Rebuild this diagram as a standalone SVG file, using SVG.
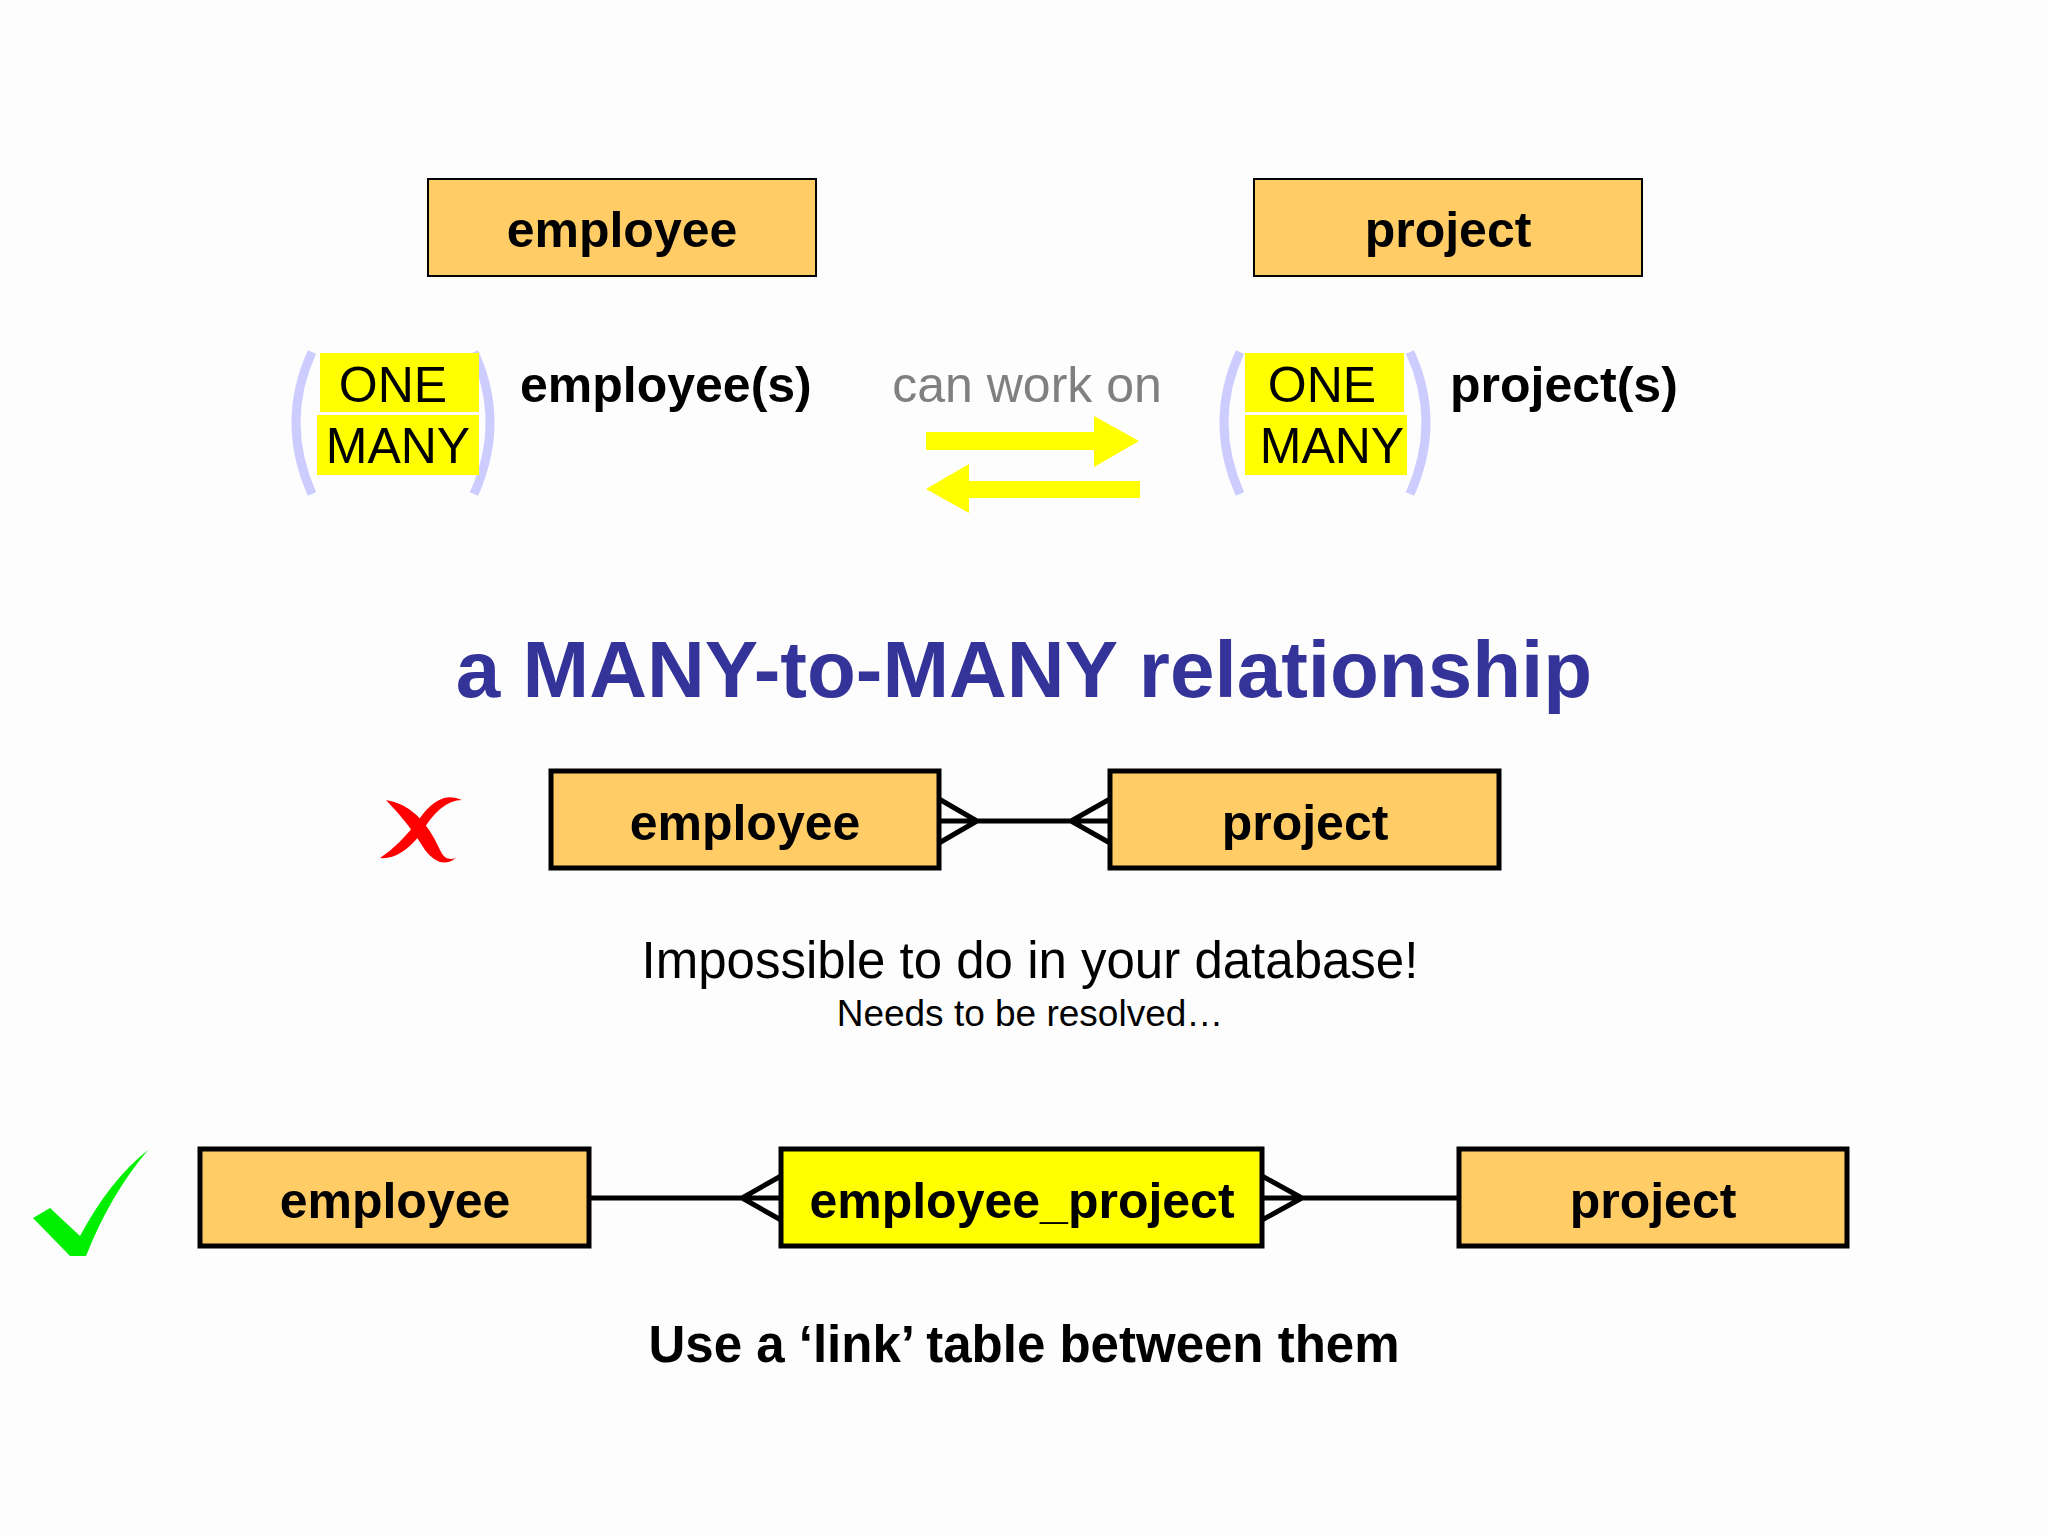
<svg xmlns="http://www.w3.org/2000/svg" width="2048" height="1536" viewBox="0 0 2048 1536">
<style>
.b{font-family:"Liberation Sans",Arial,sans-serif;font-weight:bold;font-size:50px;fill:#000;text-anchor:middle}
.r{font-family:"Liberation Sans",Arial,sans-serif;font-size:50px;fill:#000;text-anchor:middle}
.s{text-anchor:start}
.box{fill:#FFCC66;stroke:#000}
.yl{fill:#FFFF00}
.par{fill:none;stroke:#CCCCFF;stroke-width:9}
.ln{stroke:#000;stroke-width:5;fill:none}
</style>
<rect width="2048" height="1536" fill="#fdfdfd"/>
<g id="top-employee"><rect class="box" x="428" y="179" width="388" height="97" stroke-width="2"/><text class="b" x="622" y="247">employee</text></g>
<g id="top-project"><rect class="box" x="1254" y="179" width="388" height="97" stroke-width="2"/><text class="b" x="1448" y="247">project</text></g>
<g id="left-card">
<path class="par" d="M312,352 Q280,422 312,494"/><path class="par" d="M474,352 Q506,422 474,494"/>
<rect class="yl" x="320" y="353" width="159" height="59"/><rect class="yl" x="317" y="415" width="162" height="60"/>
<text class="r" x="393" y="402">ONE</text><text class="r" x="398" y="463">MANY</text>
<text class="b s" x="520" y="402">employee(s)</text>
</g>
<g id="right-card">
<path class="par" d="M1240,352 Q1208,422 1240,494"/><path class="par" d="M1410,352 Q1442,422 1410,494"/>
<rect class="yl" x="1245" y="353" width="159" height="59"/><rect class="yl" x="1245" y="415" width="162" height="60"/>
<text class="r" x="1322" y="402">ONE</text><text class="r" x="1332" y="463">MANY</text>
<text class="b s" x="1450" y="402">project(s)</text>
</g>
<g id="can-work-on">
<text class="r" x="1027" y="402" style="fill:#808080">can work on</text>
<polygon class="yl" points="926,432 1094,432 1094,416 1139,441 1094,467 1094,450 926,450"/>
<polygon class="yl" points="1140,481 969,481 969,464 926,489 969,513 969,498 1140,498"/>
</g>
<text id="title" x="1024" y="697" text-anchor="middle" font-family="Liberation Sans,Arial,sans-serif" font-weight="bold" font-size="80" fill="#333399">a MANY-to-MANY relationship</text>
<g id="cross"><path d="M386,800 Q420,805 440,850 Q445,862 456,858 Q440,870 425,850 Q410,825 386,800 Z" fill="#ff0000"/><path d="M380,858 Q400,845 420,818 Q440,790 462,800 Q440,800 420,835 Q400,860 380,858 Z" fill="#ff0000"/></g>
<g id="mid-employee"><rect class="box" x="551" y="771" width="388" height="97" stroke-width="5"/><text class="b" x="745" y="840">employee</text></g>
<g id="mid-project"><rect class="box" x="1110" y="771" width="389" height="97" stroke-width="5"/><text class="b" x="1305" y="840">project</text></g>
<text class="r" x="1030" y="978" style="font-size:51px">Impossible to do in your database!</text>
<text class="r" x="1030" y="1026" style="font-size:37px">Needs to be resolved…</text>
<g id="check"><path d="M33,1218 L50,1208 L80,1236 Q110,1180 148,1150 Q110,1195 86,1256 L70,1256 Z" fill="#00ee00"/></g>
<g id="bot-employee"><rect class="box" x="200" y="1149" width="389" height="97" stroke-width="5"/><text class="b" x="395" y="1218">employee</text></g>
<g id="bot-link"><rect x="781" y="1149" width="481" height="97" fill="#FFFF00" stroke="#000" stroke-width="5"/><text class="b" x="1022" y="1218">employee_project</text></g>
<g id="bot-project"><rect class="box" x="1459" y="1149" width="388" height="97" stroke-width="5"/><text class="b" x="1653" y="1218">project</text></g>
<text class="b" x="1024" y="1362" style="font-size:51px">Use a ‘link’ table between them</text>
<g id="connectors">
<path class="ln" d="M939,821 H1110 M939,799 L977,821 L939,843 M1110,799 L1071,821 L1110,843"/>
<path class="ln" d="M589,1198 H781 M781,1176 L742,1198 L781,1220 M1262,1198 H1459 M1262,1176 L1302,1198 L1262,1220"/>
</g>
</svg>
